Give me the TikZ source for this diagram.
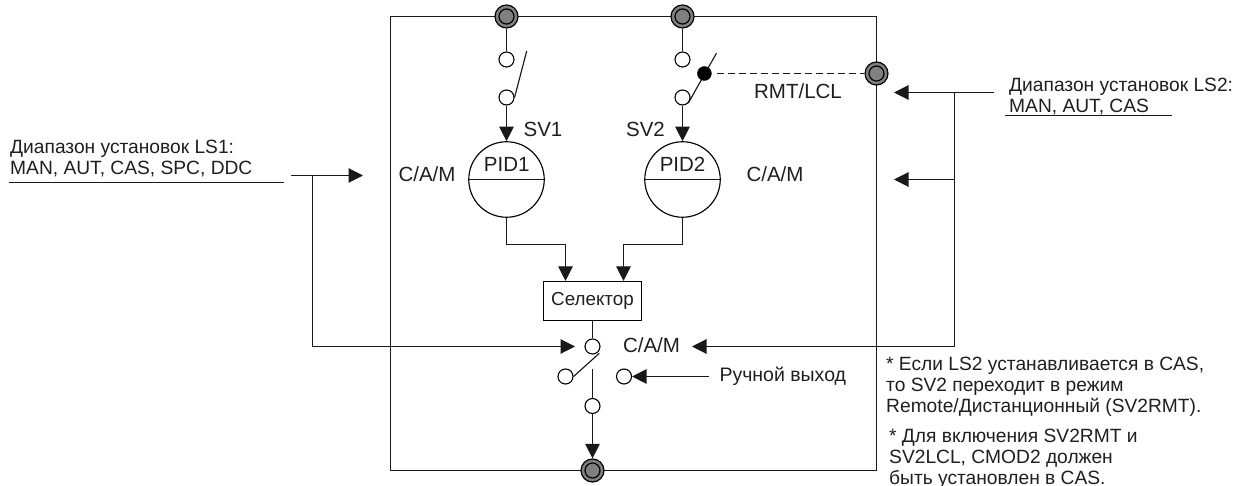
\documentclass[tikz,border=0pt]{standalone}
\usepackage{fontspec}
\setmainfont{Liberation Sans}
\usetikzlibrary{arrows.meta}
\tikzset{
  ln/.style={line width=1.15pt,draw=black!90},
  arr/.style={ln,-{Triangle[length=14.5pt,width=14.5pt]}},
  terminal/.style={circle,draw=black,line width=1.2pt,fill=black!50,minimum size=23pt,inner sep=0pt,
    path picture={\draw[line width=1.2pt] (path picture bounding box.center) circle (7.5pt);}},
  contact/.style={circle,draw=black,line width=1.1pt,fill=white,minimum size=15pt,inner sep=0pt},
  blackdot/.style={circle,draw=black,fill=black,minimum size=14pt,inner sep=0pt},
  pid/.style={circle,draw=black,line width=1.15pt,fill=white,minimum size=75.5pt,inner sep=0pt},
  txt/.style={font=\fontsize{20.5}{24}\selectfont,text=black!88,inner sep=0pt},
  lefttxt/.style={font=\fontsize{19.2}{21}\selectfont,text=black!88,inner sep=0pt,align=left,anchor=north west},
  selbox/.style={draw=black,line width=1.15pt,fill=white,minimum width=98pt,minimum height=39pt,inner sep=0pt,font=\fontsize{18.8}{24}\selectfont,text=black!88}
}
\begin{document}
\begin{tikzpicture}[x=1pt,y=-1pt]
\useasboundingbox (0,0) rectangle (1247,486);
% frame
\coordinate (tl) at (390.5,16.5);
\coordinate (tr) at (876.5,16.5);
\coordinate (bl) at (390.5,470.5);
\coordinate (br) at (876.5,470.5);
\draw[ln] (tl) -- (tr) -- (br) -- (bl) -- cycle;
\node[terminal] (t1) at (506.5,16.5) {};
\node[terminal] (t2) at (682.5,16.5) {};
\node[terminal] (t3) at (876.5,73.5) {};
\node[terminal] (t4) at (592.5,470.5) {};
\node[contact] (a1) at (506.5,59.5) {};
\node[contact] (a2) at (506.5,97.5) {};
\node[contact] (b1) at (682.5,59.5) {};
\node[contact] (b2) at (682.5,97.5) {};
\node[pid] (pid1) at (506.5,179.5) {};
\node[pid] (pid2) at (682.5,179.5) {};
\draw[ln] (pid1.west) -- (pid1.east);
\draw[ln] (pid2.west) -- (pid2.east);
\node[txt] (pid1t) at (506.7,164) {PID1};
\node[txt] (pid2t) at (682.6,164) {PID2};
\draw[ln] (t1) -- (a1);
\draw[ln] (t2) -- (b1);
\draw[arr] (a2) -- (pid1.north);
\draw[arr] (b2) -- (pid2.north);
\coordinate (l1) at (526.7,51);
\draw[ln] (a2.east) -- (l1);
\coordinate (l2) at (716.4,53.3);
\draw[ln] (b2.south east) -- (l2);
\node[blackdot] (dot) at (704.4,73.5) {};
\draw[ln,dash pattern=on 7.5pt off 3.5pt] (dot.east) ++(5,0) -- (t3.west);
% selector
\node[selbox] (sel) at (592.5,301) {Селектор};
\coordinate (p1a) at (506.5,244.5);
\coordinate (p1b) at (565.5,244.5);
\coordinate (p2a) at (682.5,244.5);
\coordinate (p2b) at (623.5,244.5);
\draw[ln] (pid1.south) -- (p1a) -- (p1b);
\draw[arr] (p1b) -- (p1b |- sel.north);
\draw[ln] (pid2.south) -- (p2a) -- (p2b);
\draw[arr] (p2b) -- (p2b |- sel.north);
% output switch
\node[contact] (c1) at (592.5,346.5) {};
\node[contact] (c2) at (565.5,376.5) {};
\node[contact] (c3) at (624,376.5) {};
\node[contact] (c4) at (592.5,406) {};
\draw[ln] (sel.south) -- (c1);
\coordinate (c1l) at (599.3,353.3);
\draw[ln] (c2.east) -- (c1l);
\coordinate (c4t) at (592.5,369.3);
\draw[ln] (c4t) -- (c4);
\draw[arr] (c4) -- (t4.north);
\coordinate (man) at (709.3,376.5);
\draw[arr] (man) -- (c3.east);
\node[txt,anchor=west,font=\fontsize{19.5}{24}\selectfont] (mant) at (719.3,376) {Ручной выход};
% LS1
\coordinate (u1a) at (9,182.5);
\coordinate (u1b) at (284,182.5);
\draw[ln] (u1a) -- (u1b);
\coordinate (s1) at (291,175.5);
\coordinate (s1t) at (363,175.5);
\coordinate (s1j) at (312.5,175.5);
\coordinate (s1d) at (312.5,346.5);
\coordinate (s1e) at (575,346.5);
\draw[arr] (s1) -- (s1t);
\draw[ln] (s1j) -- (s1d);
\draw[arr] (s1d) -- (s1e);
\node[lefttxt] (ls1) at (10,140) {Диапазон установок LS1:\\MAN, AUT, CAS, SPC, DDC};
% LS2
\coordinate (u2a) at (1005,115.5);
\coordinate (u2b) at (1172.3,115.5);
\draw[ln] (u2a) -- (u2b);
\coordinate (s2) at (994,92.5);
\coordinate (s2t) at (894,92.5);
\coordinate (s2j) at (954.5,92.5);
\coordinate (s2m) at (954.5,179.5);
\coordinate (s2mt) at (894,179.5);
\coordinate (s2d) at (954.5,346.5);
\coordinate (s2e) at (692,346.5);
\draw[arr] (s2) -- (s2t);
\draw[arr] (s2m) -- (s2mt);
\draw[ln] (s2j) -- (s2d);
\draw[arr] (s2d) -- (s2e);
\node[lefttxt] (ls2) at (1009,78) {Диапазон установок LS2:\\MAN, AUT, CAS};
% labels
\node[txt] (sv1) at (543,129) {SV1};
\node[txt] (sv2) at (645.5,129) {SV2};
\node[txt] (rl) at (798,90.7) {RMT/LCL};
\node[txt] (cam1) at (427,174) {C/A/M};
\node[txt] (cam2) at (775,174) {C/A/M};
\node[txt] (cam3) at (651.5,345) {C/A/M};
\node[lefttxt] (n1) at (886,356.5) {* Если LS2 устанавливается в CAS,\\то SV2 переходит в режим\\Remote/Дистанционный (SV2RMT).};
\node[lefttxt] (n2) at (889,428.5) {* Для включения SV2RMT и\\SV2LCL, CMOD2 должен\\быть установлен в CAS.};
\end{tikzpicture}
\end{document}
